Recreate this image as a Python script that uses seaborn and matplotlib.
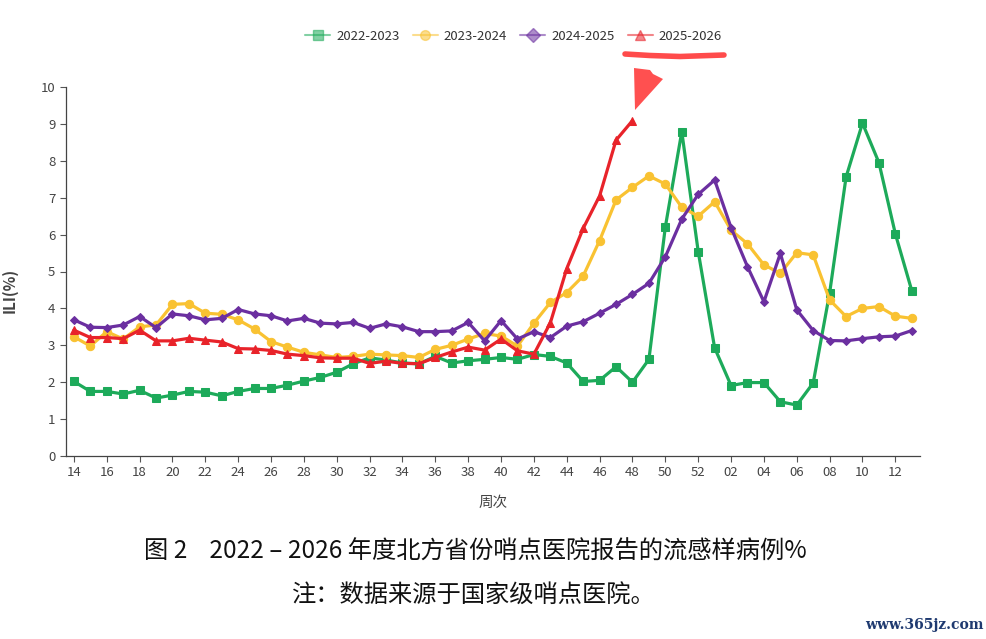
import numpy as np
import pandas as pd
import matplotlib
matplotlib.use("Agg")
import matplotlib.pyplot as plt
from matplotlib.lines import Line2D
from matplotlib.patches import Polygon
import seaborn as sns

weeks = [str(w) for w in range(14, 53)] + [f"{w:02d}" for w in range(1, 14)]
seasons = ["2022-2023", "2023-2024", "2024-2025", "2025-2026"]

s2022 = [2.02, 1.75, 1.75, 1.68, 1.78, 1.57, 1.65, 1.75, 1.73, 1.63,
         1.75, 1.83, 1.83, 1.92, 2.03, 2.13, 2.27, 2.50, 2.66, 2.60,
         2.52, 2.50, 2.70, 2.52, 2.58, 2.62, 2.67, 2.62, 2.75, 2.70,
         2.52, 2.02, 2.05, 2.42, 2.00, 2.62, 6.21, 8.79, 5.54, 2.93,
         1.91, 1.99, 1.99, 1.47, 1.38, 1.98, 4.42, 7.56, 9.02, 7.95,
         6.02, 4.48]
s2023 = [3.23, 2.98, 3.37, 3.17, 3.50, 3.55, 4.11, 4.13, 3.87, 3.84,
         3.69, 3.44, 3.10, 2.95, 2.81, 2.74, 2.67, 2.70, 2.76, 2.74,
         2.72, 2.67, 2.89, 3.00, 3.17, 3.32, 3.25, 2.98, 3.60, 4.16,
         4.43, 4.88, 5.84, 6.94, 7.28, 7.59, 7.37, 6.74, 6.50, 6.89,
         6.12, 5.75, 5.18, 4.95, 5.51, 5.45, 4.23, 3.78, 4.00, 4.05,
         3.79, 3.73]
s2024 = [3.69, 3.49, 3.48, 3.55, 3.78, 3.48, 3.85, 3.80, 3.69, 3.73,
         3.97, 3.85, 3.80, 3.66, 3.73, 3.60, 3.58, 3.62, 3.46, 3.58,
         3.50, 3.37, 3.37, 3.39, 3.62, 3.12, 3.67, 3.17, 3.37, 3.21,
         3.52, 3.64, 3.87, 4.11, 4.38, 4.68, 5.40, 6.42, 7.09, 7.48,
         6.19, 5.13, 4.18, 5.49, 3.96, 3.40, 3.13, 3.12, 3.18, 3.23,
         3.25, 3.40]
s2025 = [3.41, 3.21, 3.21, 3.18, 3.41, 3.12, 3.12, 3.19, 3.14, 3.09,
         2.91, 2.90, 2.86, 2.76, 2.72, 2.66, 2.65, 2.65, 2.51, 2.57,
         2.51, 2.50, 2.67, 2.82, 2.95, 2.87, 3.17, 2.85, 2.76, 3.61,
         5.08, 6.17, 7.05, 8.56, 9.09]

colors = ["#1DAA5A", "#F9C232", "#6B2FA0", "#E8232A"]
markers = ["s", "o", "D", "^"]
msizes = [5.2, 6.0, 4.5, 5.5]

rows = []
for name, vals in zip(seasons, [s2022, s2023, s2024, s2025]):
    for i, v in enumerate(vals):
        rows.append({"idx": i, "week": weeks[i], "ILI": v, "season": name})
df = pd.DataFrame(rows)

sns.set_theme(style="white")
plt.rcParams["font.family"] = ["Noto Sans CJK SC", "DejaVu Sans"]

fig = plt.figure(figsize=(9.87, 6.39), dpi=100)
ax = fig.add_axes([65.7 / 987, 1 - 456 / 639, (920 - 65.7) / 987, (456 - 87) / 639])

for name, c, m, ms in zip(seasons, colors, markers, msizes):
    sub = df[df["season"] == name]
    sns.lineplot(data=sub, x="idx", y="ILI", color=c, marker=m, markersize=ms,
                 markeredgecolor=c, linewidth=2.3, ax=ax, legend=False, zorder=3)

ax.set_xlim(-0.5, 51.5)
ax.set_ylim(0, 10)
ax.set_yticks(range(0, 11))
ax.set_xticks(range(0, 52, 2))
ax.set_xticklabels(weeks[::2])
ax.tick_params(axis="both", labelsize=9.5, colors="#555555", length=4, width=0.8,
               direction="out", bottom=True, left=True)
for lbl in ax.get_xticklabels() + ax.get_yticklabels():
    lbl.set_color("#444444")
for sp in ["top", "right"]:
    ax.spines[sp].set_visible(False)
for sp in ["left", "bottom"]:
    ax.spines[sp].set_color("#444444")
    ax.spines[sp].set_linewidth(0.9)
ax.set_xlabel("周次", fontsize=10.5, color="#444444")
ax.xaxis.set_label_coords((493 - 65.7) / (920 - 65.7), -(496 - 456) / (456 - 87))
ax.set_ylabel("ILI(%)", fontsize=11, color="#444444", fontweight="bold")
ax.yaxis.set_label_coords(-(65.7 - 18) / (920 - 65.7), (456 - 290) / (456 - 87))
ax.grid(False)

handles = []
for name, c, m in zip(seasons, colors, markers):
    handles.append(Line2D([0], [0], color=c, alpha=0.55, linewidth=1.5, marker=m,
                          markersize=7, markerfacecolor=c, markeredgecolor=c))
fig.legend(handles, seasons, loc="center", bbox_to_anchor=(513.5 / 987, 1 - 36 / 639), ncol=4,
           frameon=False, fontsize=9.5, handlelength=1.9, columnspacing=1.0,
           handletextpad=0.45, labelcolor="#333333")

# hand-drawn red highlight
fig.add_artist(Line2D(np.array([625, 650, 680, 724]) / 987,
                      1 - np.array([54, 55.5, 56.5, 55]) / 639,
                      color="#FF4B4B", linewidth=4, solid_capstyle="round",
                      transform=fig.transFigure))
arrow_pts = np.array([[634, 68], [650, 70], [653, 74], [663, 79], [635, 110]], dtype=float)
arrow_pts[:, 0] /= 987
arrow_pts[:, 1] = 1 - arrow_pts[:, 1] / 639
fig.add_artist(Polygon(arrow_pts, closed=True, facecolor="#FF5050", edgecolor="none",
                       transform=fig.transFigure))

fig.text(144 / 987, 1 - 552 / 639, "图 2    2022 – 2026 年度北方省份哨点医院报告的流感样病例%",
         ha="left", va="center", fontsize=17.5, color="#111111")
fig.text(292 / 987, 1 - 596 / 639, "注：数据来源于国家级哨点医院。",
         ha="left", va="center", fontsize=17.5, color="#111111")
fig.text(984 / 987, 1 - 625 / 639, "www.365jz.com", ha="right", va="center",
         fontsize=10, color="#1F3A70", family=["DejaVu Serif"], fontweight="bold")

fig.savefig("out.png", dpi=100)
